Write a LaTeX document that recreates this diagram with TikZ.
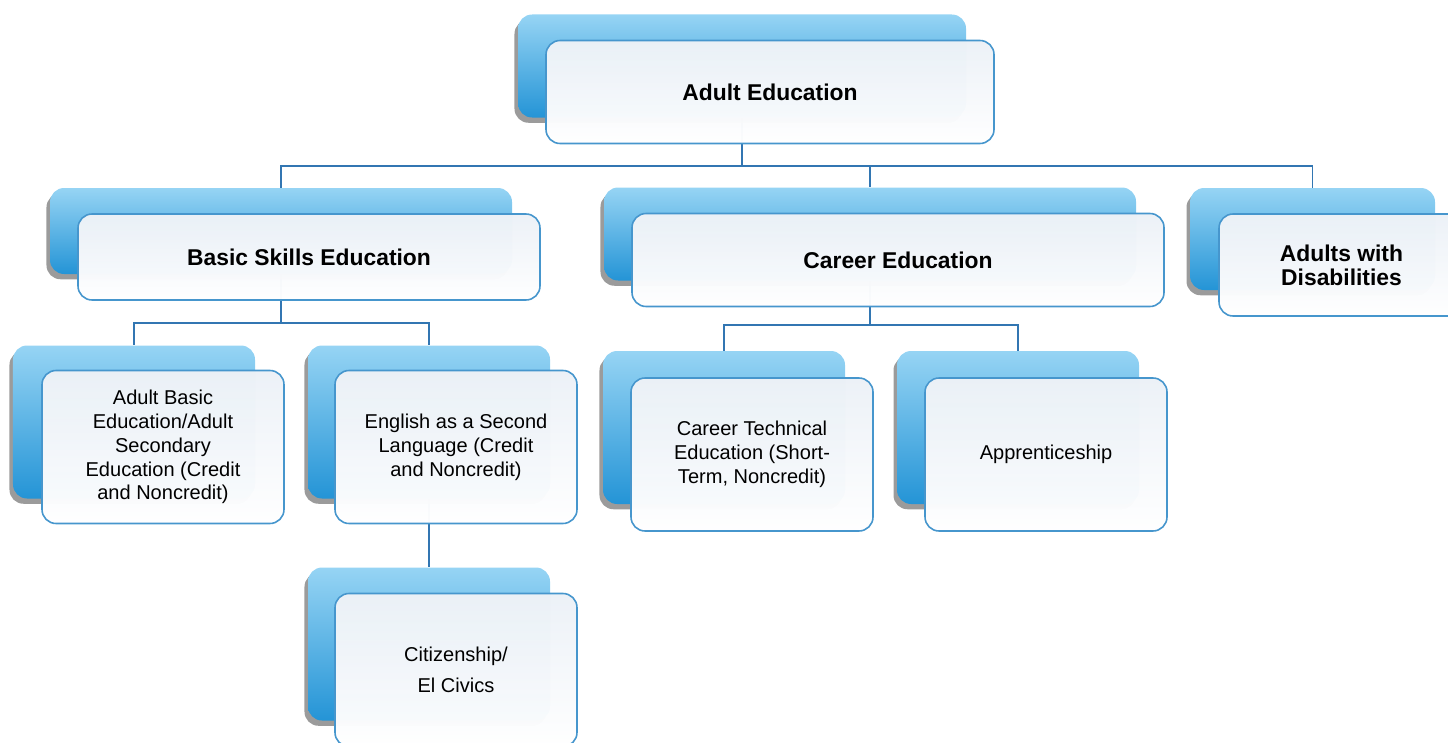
\documentclass[tikz,border=0pt]{standalone}
\usepackage{fontspec}
\setmainfont{Liberation Sans}
\usetikzlibrary{shadows,backgrounds}

\definecolor{backtop}{RGB}{150,212,244}
\definecolor{backbot}{RGB}{36,148,214}
\definecolor{frameblue}{RGB}{70,150,205}
\definecolor{fronttop}{RGB}{236,241,247}
\definecolor{linkblue}{RGB}{50,118,178}

\begin{document}
\begin{tikzpicture}[%
    every node/.style={inner sep=2pt},  % boxes get their size from the styles
    ]
% -------------------------------------------------
% Box styles: a blue card behind, a pale card in front
\tikzset{
  back/.style={rounded corners=8pt, top color=backtop, bottom color=backbot,
    drop shadow={shadow xshift=-2pt, shadow yshift=-3pt, opacity=.6, fill=black!65}},
  front/.style={draw=frameblue, line width=0.9pt, rounded corners=8pt,
    top color=fronttop, bottom color=white!97!fronttop, fill opacity=.985, text opacity=1,
    align=center, font=\fontsize{11.4}{13.6}\selectfont},
  head/.style={font=\fontsize{13}{13.5}\selectfont\bfseries},
  rootsize/.style={minimum width=8.96cm, minimum height=2.06cm},
  basicsize/.style={minimum width=9.24cm, minimum height=1.72cm},
  careersize/.style={minimum width=10.64cm, minimum height=1.86cm},
  disabsize/.style={minimum width=4.90cm, minimum height=2.04cm},
  leafsize/.style={minimum width=4.84cm, minimum height=3.06cm},
  link/.style={draw=linkblue, line width=1.1pt}
}
\useasboundingbox (0,0) rectangle (28.96,-14.84);
% -------------------------------------------------
% Start by placing the nodes (back card first, front card shifted)

\node[back, rootsize] (a0) at (14.84,-1.32) {};
\node[front, head, rootsize, xshift=5.6mm, yshift=-5.2mm] (a) at (a0) {Adult Education};

\node[back, basicsize] (b0) at (5.62,-4.62) {};
\node[front, head, basicsize, xshift=5.6mm, yshift=-5.2mm] (b) at (b0) {Basic Skills Education};
\node[back, careersize] (c0) at (17.40,-4.68) {};
\node[front, head, careersize, xshift=5.6mm, yshift=-5.2mm] (c) at (c0) {Career Education};
\node[back, disabsize] (d0) at (26.25,-4.78) {};
\node[front, head, disabsize, xshift=5.8mm, yshift=-5.2mm] (d) at (d0) {Adults with\\Disabilities};

\node[back, leafsize] (e0) at (2.68,-8.44) {};
\node[front, leafsize, xshift=5.8mm, yshift=-5.0mm] (e) at (e0)
  {Adult Basic\\Education/Adult\\Secondary\\Education (Credit\\and Noncredit)};
\node[back, leafsize] (f0) at (8.58,-8.44) {};
\node[front, leafsize, xshift=5.4mm, yshift=-5.0mm] (f) at (f0)
  {English as a Second\\Language (Credit\\and Noncredit)};
\node[back, leafsize] (g0) at (14.48,-8.55) {};
\node[front, leafsize, xshift=5.6mm, yshift=-5.4mm] (g) at (g0)
  {Career Technical\\Education (Short-\\Term, Noncredit)};
\node[back, leafsize] (h0) at (20.36,-8.55) {};
\node[front, leafsize, xshift=5.6mm, yshift=-5.4mm] (h) at (h0) {Apprenticeship};

\node[back, leafsize] (i0) at (8.58,-12.88) {};
\node[front, leafsize, xshift=5.4mm, yshift=-5.2mm] (i) at (i0) {Citizenship/\\[4pt]El Civics};

% -------------------------------------------------
% Connectors run behind the cards
\begin{pgfonlayer}{background}
\draw[link] (a0.south) -- ++(0,-0.96) -| (b0.north);	%Adult Education,Basic Skills
\draw[link] (a0.south) -- ++(0,-0.96) -| (c0.north);	%Adult Education,Career
\draw[link] (a0.south) -- ++(0,-0.96) -| (d0.north);	%Adult Education,Disabilities
\draw[link] (b0.south) -- ++(0,-0.98) -| (e0.north);	%Basic Skills,ABE/ASE
\draw[link] (b0.south) -- ++(0,-0.98) -| (f0.north);	%Basic Skills,ESL
\draw[link] (c0.south) -- ++(0,-0.88) -| (g0.north);	%Career,CTE
\draw[link] (c0.south) -- ++(0,-0.88) -| (h0.north);	%Career,Apprenticeship
\draw[link] (f0.south) -- (i0.north);			%ESL,Citizenship
\end{pgfonlayer}

% -------------------------------------------------
\end{tikzpicture}
\end{document}
